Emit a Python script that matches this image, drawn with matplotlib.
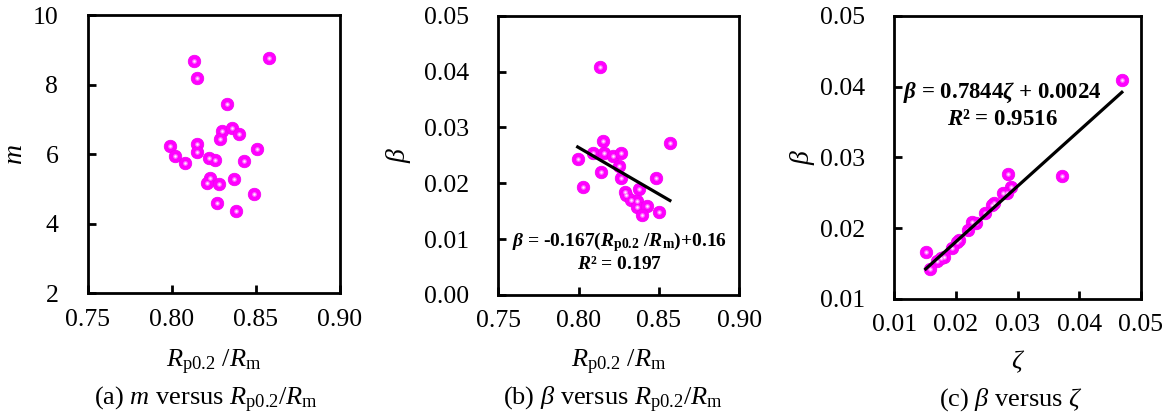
import numpy as np
import matplotlib
matplotlib.use('Agg')
import matplotlib.pyplot as plt

plt.rcParams['font.family'] = ['Liberation Serif', 'DejaVu Serif']
plt.rcParams['mathtext.fontset'] = 'custom'
plt.rcParams['mathtext.rm'] = 'Liberation Serif'
plt.rcParams['mathtext.it'] = 'Liberation Serif:italic'
plt.rcParams['mathtext.bf'] = 'Liberation Serif:bold'
plt.rcParams['mathtext.bfit'] = 'Liberation Serif:italic:bold'

# (a) m versus Rp0.2/Rm
ratio_a = [0.813, 0.858, 0.815, 0.833, 0.830, 0.836, 0.840, 0.829, 0.799, 0.815,
           0.815, 0.851, 0.802, 0.808, 0.822, 0.826, 0.843, 0.823, 0.821, 0.828,
           0.837, 0.849, 0.827, 0.838]
m_a = [8.67, 8.77, 8.18, 7.45, 6.66, 6.76, 6.57, 6.43, 6.24, 6.30,
       6.06, 6.14, 5.94, 5.75, 5.88, 5.84, 5.81, 5.32, 5.17, 5.13,
       5.29, 4.86, 4.60, 4.37]

# (b) beta versus Rp0.2/Rm
ratio_b = [0.8153, 0.8568, 0.7994, 0.8088, 0.8155, 0.8212, 0.8266, 0.8252, 0.8139, 0.8028,
           0.8266, 0.8481, 0.8377, 0.8288, 0.8292, 0.8326, 0.8363, 0.8363, 0.8427, 0.8393,
           0.8502, 0.8131]
beta_b = [0.0276, 0.0273, 0.0244, 0.0255, 0.0254, 0.0248, 0.0255, 0.0231, 0.0220, 0.0194,
          0.0209, 0.0209, 0.0190, 0.0185, 0.0179, 0.0170, 0.0169, 0.0158, 0.0159, 0.0143,
          0.0149, 0.0409]
fit_b = (-0.167, 0.16)

# (c) beta versus zeta
zeta_c = [0.0469, 0.0372, 0.0285, 0.0151, 0.0290, 0.0283, 0.0276, 0.0262, 0.0258, 0.0247,
          0.0226, 0.0232, 0.0220, 0.0205, 0.0202, 0.0193, 0.0180, 0.0169, 0.0158, 0.0175]
beta_c = [0.0409, 0.0274, 0.0277, 0.0167, 0.0258, 0.0250, 0.0249, 0.0235, 0.0233, 0.0222,
          0.0209, 0.0208, 0.0197, 0.0184, 0.0181, 0.0172, 0.0160, 0.0153, 0.0143, 0.0158]
fit_c = (0.7844, 0.0024)

fig = plt.figure(figsize=(11.67, 4.18), dpi=100)
ax_a = fig.add_axes([0.075, 0.2983, 0.2163, 0.6658])
ax_b = fig.add_axes([0.4270, 0.2943, 0.2065, 0.6681])
ax_c = fig.add_axes([0.7663, 0.2847, 0.2114, 0.6777])


def dots(ax, x, y):
    # magenta ball with a small pale centre
    ax.scatter(x, y, s=82, c='#ff00ff', edgecolors='#f000f0', linewidths=0.5, zorder=3)
    ax.scatter(x, y, s=12, c='#ff66ff', linewidths=0, zorder=4)
    ax.scatter(x, y, s=3, c='#ffe6ff', linewidths=0, zorder=5)


def style(ax):
    for sp in ax.spines.values():
        sp.set_linewidth(2.0)
    ax.tick_params(direction='in', length=6, width=2.0, labelsize=18.5,
                   top=False, right=False)
    ax.tick_params(axis='y', pad=21)
    ax.tick_params(axis='x', pad=11)


dots(ax_a, ratio_a, m_a)
ax_a.set_xlim(0.75, 0.90)
ax_a.set_ylim(2, 10)
ax_a.set_xticks([0.75, 0.80, 0.85, 0.90])
ax_a.set_xticklabels(['0.75', '0.80', '0.85', '0.90'])
ax_a.set_yticks([2, 4, 6, 8, 10])
style(ax_a)

dots(ax_b, ratio_b, beta_b)
xb = np.array([np.min(ratio_b), np.max(ratio_b)])
ax_b.plot(xb, fit_b[0] * xb + fit_b[1], color='black', lw=2.3, zorder=6)
ax_b.set_xlim(0.75, 0.90)
ax_b.set_ylim(0, 0.05)
ax_b.set_xticks([0.75, 0.80, 0.85, 0.90])
ax_b.set_xticklabels(['0.75', '0.80', '0.85', '0.90'])
ax_b.set_yticks([0, 0.01, 0.02, 0.03, 0.04, 0.05])
ax_b.set_yticklabels(['0.00', '0.01', '0.02', '0.03', '0.04', '0.05'])
style(ax_b)
ax_b.text(0.8255, 0.0095,
          r'$\mathbfit{\beta}$ = -0.167($\mathbfit{R}_{\mathbf{p0.2}}$ /$\mathbfit{R}_{\mathbf{m}}$)+0.16',
          fontsize=14, fontweight='bold', ha='center', va='center', zorder=7)
ax_b.text(0.8255, 0.0054, r'$\mathbfit{R}$² = 0.197',
          fontsize=14, fontweight='bold', ha='center', va='center', zorder=7)

dots(ax_c, zeta_c, beta_c)
xc = np.array([np.min(zeta_c), np.max(zeta_c)])
ax_c.plot(xc, fit_c[0] * xc + fit_c[1], color='black', lw=2.3, zorder=6)
ax_c.set_xlim(0.01, 0.05)
ax_c.set_ylim(0.01, 0.05)
ax_c.set_xticks([0.01, 0.02, 0.03, 0.04, 0.05])
ax_c.set_xticklabels(['0.01', '0.02', '0.03', '0.04', '0.05'])
ax_c.set_yticks([0.01, 0.02, 0.03, 0.04, 0.05])
ax_c.set_yticklabels(['0.01', '0.02', '0.03', '0.04', '0.05'])
style(ax_c)
ax_c.text(0.0276, 0.0391, r'$\mathbfit{\beta}$ = 0.7844$\mathbfit{\zeta}$ + 0.0024',
          fontsize=16.5, fontweight='bold', ha='center', va='center', zorder=7)
ax_c.text(0.0276, 0.0353, r'$\mathbfit{R}$² = 0.9516',
          fontsize=16.5, fontweight='bold', ha='center', va='center', zorder=7)

# axis labels
xlab = r'$R_{\mathrm{p0.2}}$ /$R_{\mathrm{m}}$'
for ax, lab in [(ax_a, xlab), (ax_b, xlab), (ax_c, r'$\zeta$')]:
    ax.set_xlabel(lab, fontsize=19)
    ax.xaxis.label.set_va('center')
ax_a.xaxis.set_label_coords(0.50, -0.25)
ax_b.xaxis.set_label_coords(0.50, -0.243)
ax_c.xaxis.set_label_coords(0.50, -0.222)

ax_a.set_ylabel(r'$m$', fontsize=20)
ax_b.set_ylabel(r'$\beta$', fontsize=20)
ax_c.set_ylabel(r'$\beta$', fontsize=20)
for ax in (ax_a, ax_b, ax_c):
    ax.yaxis.label.set_va('center')
ax_a.yaxis.set_label_coords(-0.287, 0.5)
ax_b.yaxis.set_label_coords(-0.416, 0.5)
ax_c.yaxis.set_label_coords(-0.374, 0.5)

# captions
fig.text(206.5 / 1167, 1 - 400 / 418, r'(a) $m$ versus $R_{\mathrm{p0.2}}/R_{\mathrm{m}}$',
         fontsize=19, ha='center', va='center')
fig.text(613 / 1167, 1 - 400 / 418, r'(b) $\beta$ versus $R_{\mathrm{p0.2}}/R_{\mathrm{m}}$',
         fontsize=19, ha='center', va='center')
fig.text(1011 / 1167, 1 - 400 / 418, r'(c) $\beta$ versus $\zeta$',
         fontsize=19, ha='center', va='center')

fig.savefig('out.png', dpi=100)
